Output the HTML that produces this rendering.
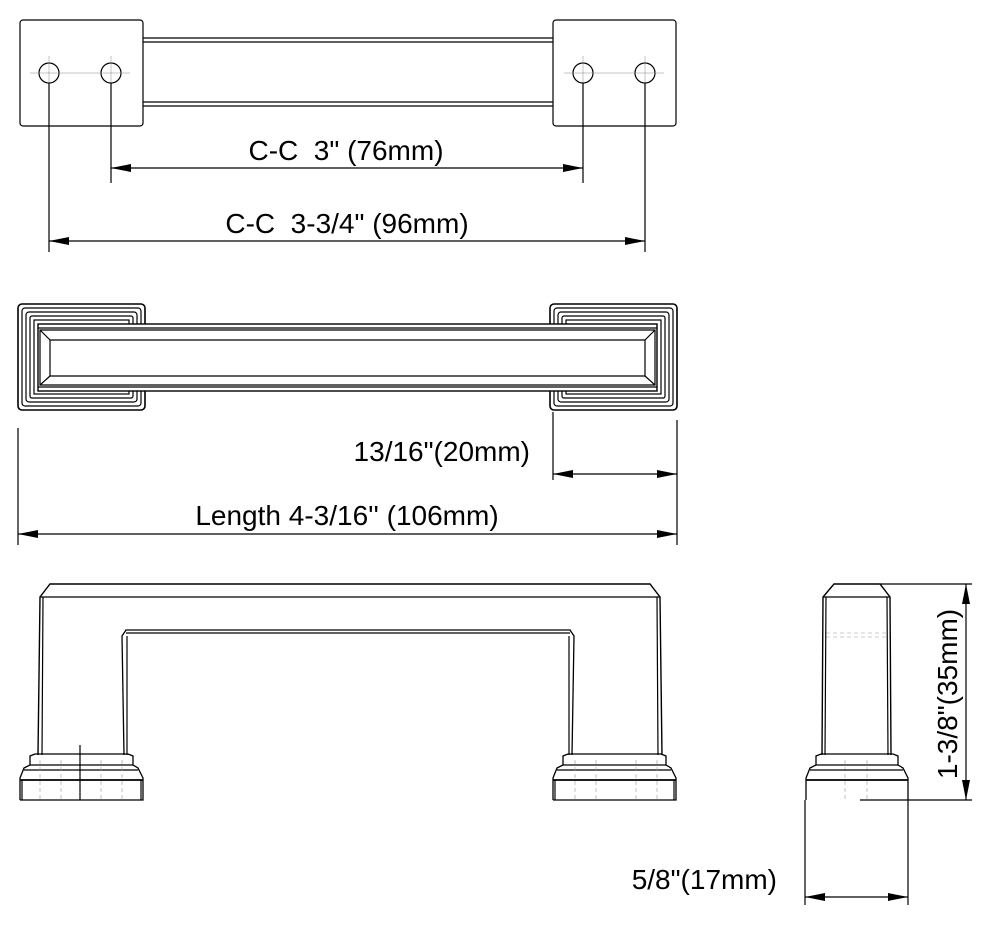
<!DOCTYPE html>
<html><head><meta charset="utf-8"><style>
html,body{margin:0;padding:0;background:#fff;}
svg{display:block;}
text{font-family:"Liberation Sans",Arial,sans-serif;font-size:28px;fill:#000;}
</style></head><body>
<svg width="990" height="926" viewBox="0 0 990 926" xmlns="http://www.w3.org/2000/svg">
<defs>
<marker id="a" viewBox="0 0 20 8" refX="20" refY="4" markerWidth="20" markerHeight="8" markerUnits="userSpaceOnUse" orient="auto-start-reverse"><path d="M0,0 L20,4 L0,8 z" fill="#000"/></marker>
</defs>
<g fill="none" stroke="#000" stroke-width="1.2">
<!-- TOP VIEW -->
<rect x="20" y="20" width="123" height="106" rx="3"/>
<rect x="553" y="20" width="123" height="106" rx="3"/>
<line x1="143" y1="38" x2="553" y2="38"/><line x1="143" y1="42" x2="553" y2="42"/>
<line x1="143" y1="106" x2="553" y2="106"/><line x1="143" y1="102" x2="553" y2="102"/>
<circle cx="49" cy="73" r="10"/><circle cx="111" cy="73" r="10"/>
<circle cx="583" cy="73" r="10"/><circle cx="645" cy="73" r="10"/>
<g stroke-width="0.5" stroke="#888"><line x1="30" y1="73" x2="130" y2="73"/><line x1="564" y1="73" x2="664" y2="73"/>
<line x1="49" y1="56" x2="49" y2="90"/><line x1="111" y1="56" x2="111" y2="90"/><line x1="583" y1="56" x2="583" y2="90"/><line x1="645" y1="56" x2="645" y2="90"/></g>
<line x1="49" y1="83" x2="49" y2="252"/><line x1="645" y1="83" x2="645" y2="252"/>
<line x1="111" y1="83" x2="111" y2="183"/><line x1="583" y1="83" x2="583" y2="183"/>
<line x1="111" y1="168" x2="583" y2="168" marker-start="url(#a)" marker-end="url(#a)"/>
<line x1="49" y1="241" x2="645" y2="241" marker-start="url(#a)" marker-end="url(#a)"/>

<!-- MIDDLE VIEW -->
<g id="blk">
<rect x="18" y="304" width="127" height="106" rx="4" stroke-width="1.6"/>
<rect x="22" y="308" width="119" height="98" rx="3"/>
<rect x="26" y="312" width="111" height="90" rx="3"/>
<rect x="30" y="316" width="103" height="82" rx="2"/>
<rect x="34" y="320" width="95" height="74"/>
</g>
<g transform="translate(695,0) scale(-1,1)"><rect x="18" y="304" width="127" height="106" rx="4" stroke-width="1.6"/>
<rect x="22" y="308" width="119" height="98" rx="3"/>
<rect x="26" y="312" width="111" height="90" rx="3"/>
<rect x="30" y="316" width="103" height="82" rx="2"/>
<rect x="34" y="320" width="95" height="74"/></g>
<rect x="38" y="324" width="619" height="67" fill="#fff" stroke-width="1.4"/>
<line x1="38" y1="328" x2="657" y2="328"/><line x1="38" y1="387" x2="657" y2="387"/>
<polygon points="40,330 655,330 655,385 40,385"/>
<polygon points="50,340 645,340 645,376 50,376"/>
<line x1="40" y1="330" x2="50" y2="340"/><line x1="655" y1="330" x2="645" y2="340"/>
<line x1="40" y1="385" x2="50" y2="376"/><line x1="655" y1="385" x2="645" y2="376"/>
<line x1="18" y1="428" x2="18" y2="545"/><line x1="677" y1="420" x2="677" y2="545"/>
<line x1="553" y1="412" x2="553" y2="480"/>
<line x1="553" y1="474" x2="677" y2="474" marker-start="url(#a)" marker-end="url(#a)"/>
<line x1="18" y1="534" x2="677" y2="534" marker-start="url(#a)" marker-end="url(#a)"/>

<!-- FRONT VIEW -->
<polyline points="38,755 40,597 50,584 650,584 660,597 662,755" stroke-width="1.4"/>
<line x1="40" y1="597" x2="660" y2="597"/>
<line x1="43" y1="597" x2="42" y2="755"/><line x1="657" y1="597" x2="658" y2="755"/>
<polyline points="124,755 122,636 126,630 570,630 574,636 572,755" stroke-width="1.3"/>
<line x1="126" y1="633" x2="570" y2="633"/>
<line x1="127" y1="636" x2="127" y2="755"/><line x1="569" y1="636" x2="569" y2="755"/>
<g id="base">
<polyline points="20,800 20,778 24,768 30,765 30,756 35,754 128,754 133,756 133,765 138,768 143,778 143,800 20,800" stroke-width="1.3"/>
<line x1="30" y1="765" x2="133" y2="765"/><line x1="24" y1="770" x2="138" y2="770"/>
<line x1="20" y1="780" x2="143" y2="780" stroke-width="1.8"/>
<line x1="22" y1="780" x2="22" y2="800"/><line x1="141" y1="780" x2="141" y2="800"/>
</g>
<use href="#base" transform="translate(533,0)"/>
<g stroke-width="0.6" stroke="#999" stroke-dasharray="4,3">
<line x1="40" y1="760" x2="40" y2="800"/><line x1="61" y1="760" x2="61" y2="800"/><line x1="101" y1="760" x2="101" y2="800"/><line x1="122" y1="760" x2="122" y2="800"/>
<line x1="575" y1="760" x2="575" y2="800"/><line x1="596" y1="760" x2="596" y2="800"/><line x1="636" y1="760" x2="636" y2="800"/><line x1="657" y1="760" x2="657" y2="800"/>
<line x1="826" y1="633" x2="890" y2="633"/><line x1="826" y1="637" x2="890" y2="637"/>
<line x1="845" y1="760" x2="845" y2="800"/><line x1="867" y1="760" x2="867" y2="800"/>
</g>
<line x1="80" y1="745" x2="80" y2="800"/>

<!-- SIDE VIEW -->
<polyline points="822,755 823,597 834,584 880,584 890,597 891,755" stroke-width="1.4"/>
<line x1="823" y1="597" x2="890" y2="597"/>
<line x1="826" y1="597" x2="825" y2="755"/><line x1="887" y1="597" x2="888" y2="755"/>
<polyline points="806,800 806,778 810,768 816,765 816,756 821,754 893,754 898,756 898,765 903,768 908,778 908,800" stroke-width="1.3"/>
<line x1="816" y1="765" x2="898" y2="765"/><line x1="810" y1="770" x2="903" y2="770"/>
<line x1="806" y1="780" x2="908" y2="780" stroke-width="1.8"/>
<line x1="880" y1="584" x2="972" y2="584"/><line x1="860" y1="800" x2="972" y2="800"/>
<line x1="966" y1="584" x2="966" y2="800" marker-start="url(#a)" marker-end="url(#a)"/>
<line x1="805" y1="800" x2="805" y2="905"/><line x1="908" y1="800" x2="908" y2="905"/>
<line x1="805" y1="897" x2="908" y2="897" marker-start="url(#a)" marker-end="url(#a)"/>
</g>
<text x="346" y="160" text-anchor="middle" xml:space="preserve">C-C  3" (76mm)</text>
<text x="347" y="233" text-anchor="middle" xml:space="preserve">C-C  3-3/4" (96mm)</text>
<text x="530" y="461" text-anchor="end">13/16"(20mm)</text>
<text x="347" y="525" text-anchor="middle">Length 4-3/16'' (106mm)</text>
<text x="777" y="889" text-anchor="end">5/8"(17mm)</text>
<text transform="translate(957,694) rotate(-90)" text-anchor="middle">1-3/8"(35mm)</text>
</svg>
</body></html>
